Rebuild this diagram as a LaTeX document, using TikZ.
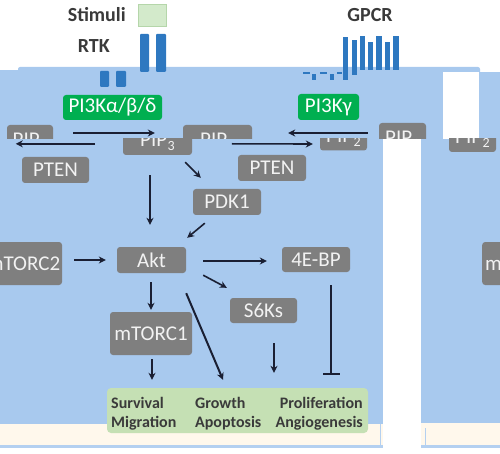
\documentclass[tikz,border=0pt]{standalone}
\usepackage{fontspec}
\setmainfont{Carlito}
\usetikzlibrary{arrows.meta,calc}
\definecolor{bgblue}{HTML}{A8C9EE}
\definecolor{boxgray}{HTML}{7F7F7F}
\definecolor{boxtext}{HTML}{F2F2F2}
\definecolor{kgreen}{HTML}{00AF50}
\definecolor{barblue}{HTML}{2E78C0}
\definecolor{outgreen}{HTML}{C5E0B4}
\definecolor{stimfill}{HTML}{D3EACB}
\definecolor{stimdraw}{HTML}{B5D6AA}
\definecolor{cream}{HTML}{FFF8EC}
\definecolor{linblue}{HTML}{B4D0F0}
\definecolor{arrowc}{HTML}{1A1F33}
\definecolor{darktext}{HTML}{3A3A3A}
\newcommand\pipsub[1]{\kern0.5pt\raisebox{-4pt}{\fontsize{14}{14}\selectfont #1}}
\begin{document}
\begin{tikzpicture}[x=1pt,y=-1pt,
  gbox/.style={fill=boxgray, rounded corners=3pt, inner sep=0pt, text=boxtext,
    font=\fontsize{21}{24}\selectfont},
  pipbox/.style={gbox, minimum height=30, text height=13.5, text depth=0},
  kbox/.style={fill=kgreen, rounded corners=3pt, inner sep=0pt, text=white,
    font=\fontsize{21}{24}\selectfont},
  arr/.style={draw=arrowc, line width=1.6pt, -{Stealth[length=7pt,width=7pt]}},
  inh/.style={draw=arrowc, line width=1.8pt, -{Bar[width=17pt,line width=2pt]}},
  lbl/.style={font=\fontsize{20}{24}\selectfont\bfseries, text=darktext, inner sep=0pt},
  outtxt/.style={font=\fontsize{16}{18}\selectfont\bfseries, text=darktext, inner sep=0pt}]
\useasboundingbox (0,0) rectangle (500,454);
\clip (0,0) rectangle (500,454);

% ---------- backgrounds ----------
\fill[cream] (0,424) rectangle (383,445);
\fill[cream] (421,423) rectangle (500,445);
\fill[linblue] (0,445) rectangle (383,447.5);
\fill[linblue] (421,445) rectangle (500,447.5);
\fill[linblue] (379.5,423) rectangle (381,447);
\fill[linblue] (424.5,428) rectangle (426,447);
\fill[bgblue] (0,139) rectangle (383,424);
\fill[bgblue] (421,139) rectangle (500,423);
\fill[bgblue] (0,70) rectangle (18,139);
\fill[bgblue, rounded corners=2pt] (18,67) rectangle (480,139);
\fill[bgblue] (470,72) rectangle (500,139);
\fill[white] (443,72) rectangle (479,139);

% ---------- receptors ----------
\node[lbl, anchor=east] (stimtxt) at (126,14.5) {Stimuli};
\node[fill=stimfill, draw=stimdraw, line width=0.8pt, minimum width=28, minimum height=22, inner sep=0pt] (stim) at (152,15.5) {};
\node[lbl, anchor=east] (rtk) at (110,46.5) {RTK};
\node[lbl] (gpcr) at (370,15.5) {GPCR};

\fill[barblue, rounded corners=1pt] (140,34) rectangle (149,72);
\fill[barblue, rounded corners=1pt] (156,34) rectangle (166,72);
\fill[barblue, rounded corners=1pt] (100,71) rectangle (109,87);
\fill[barblue, rounded corners=1pt] (116,71) rectangle (126,87);

\fill[barblue] (343,37) rectangle (348,80);
\fill[barblue] (352,40) rectangle (356.5,75);
\fill[barblue] (360,36) rectangle (365,70);
\fill[barblue] (368,42) rectangle (373,70);
\fill[barblue] (376,36) rectangle (382,70);
\fill[barblue] (385,42) rectangle (390,70);
\fill[barblue] (393,36) rectangle (398.5,70);
\fill[barblue] (303,72) rectangle (310,74);
\fill[barblue] (312,74) rectangle (316,80);
\fill[barblue] (320,72) rectangle (327,74);
\fill[barblue] (330,74) rectangle (334,80);
\fill[barblue] (337,72) rectangle (342,74);

% ---------- PI3K ----------
\node[kbox, minimum width=99, minimum height=25] (pi3kabd) at (112.5,107.5) {PI3Kα/β/δ};
\node[kbox, minimum width=61, minimum height=26] (pi3kg) at (328.5,107) {PI3Kγ};

% ---------- upper strip of PIP boxes ----------
\begin{scope}
\clip (0,0) rectangle (500,139);
\node[pipbox, minimum width=46] (pipul) at (30,140) {PIP\pipsub{2}};
\node[pipbox, minimum width=69] (pipum) at (217.5,140) {PIP\pipsub{3}};
\node[pipbox, minimum width=47] (pipur) at (402.5,138) {PIP\pipsub{2}};
\end{scope}

% ---------- lower strip of PIP boxes ----------
\begin{scope}
\clip (0,139) rectangle (500,454);
\node[pipbox, minimum width=69] (pip3l) at (157.5,140) {PIP\pipsub{3}};
\node[pipbox, minimum width=47] (pip2lm) at (343.5,135.5) {PIP\pipsub{2}};
\node[pipbox, minimum width=47] (pip2lr) at (472.5,137) {PIP\pipsub{2}};
\end{scope}

% ---------- pathway boxes ----------
\node[gbox, minimum width=67, minimum height=26] (pten1) at (55.5,170) {PTEN};
\node[gbox, minimum width=68, minimum height=26] (pten2) at (272,168) {PTEN};
\node[gbox, minimum width=68, minimum height=26] (pdk1) at (227,202) {PDK1};
\node[gbox, minimum width=69, minimum height=26] (akt) at (151.5,260) {Akt};
\node[gbox, minimum width=77, minimum height=43] (mtorc2) at (23.5,263.5) {mTORC2};
\node[gbox, minimum width=82, minimum height=43] (mtorc1) at (151,333.5) {mTORC1};
\node[gbox, minimum width=68, minimum height=25] (ebp) at (316,259.5) {4E-BP};
\node[gbox, minimum width=67, minimum height=25] (s6ks) at (263.5,310.5) {S6Ks};
\node[gbox, minimum width=80, minimum height=43, anchor=west, align=left, text width=74, inner xsep=3pt] (mright) at (482,263.5) {mTORC2};

% ---------- outcomes ----------
\node[fill=outgreen, rounded corners=4pt, minimum width=261, minimum height=45, inner sep=0pt] (outc) at (237.5,410.5) {};
\node[outtxt, anchor=base west] (surv) at (111,408) {Survival};
\node[outtxt, anchor=base west] (migr) at (111,427) {Migration};
\node[outtxt, anchor=base west] (grow) at (195,408) {Growth};
\node[outtxt, anchor=base west] (apop) at (195,427) {Apoptosis};
\node[outtxt, anchor=base east] (prol) at (363,408) {Proliferation};
\node[outtxt, anchor=base east] (angi) at (363,427) {Angiogenesis};

% ---------- connectors ----------
\draw[arr] ($(pipul.east)+(20,-7)$) -- ($(pipum.west)+(-28,-7)$);
\draw[arr] ($(pipur.west)+(-11,-5)$) -- ($(pipum.east)+(36,-7)$);
\draw[arr] ($(pten1.north east)+(6,-13)$) -- ($(pten1.north west)+(-6,-13)$);
\draw[arr] ($(pten2.north west)+(-6,-11)$) -- ($(pip2lm.west)+(-7,8.5)$);
\draw[arr] ($(pip3l.south east)+(-7,7)$) -- ($(pdk1.north west)+(8,-11)$);
\draw[arr] ($(pip3l.south)+(-7.5,20)$) -- ($(akt.north)+(-1.5,-22)$);
\draw[arr] ($(pdk1.south west)+(12,8)$) -- ($(akt.north east)+(1,-9)$);
\draw[arr] ($(mtorc2.east|-akt.west)+(12,0)$) -- ($(akt.west)+(-11,0)$);
\draw[arr] ($(akt.east)+(17,1)$) -- ($(ebp.west)+(-15,1.5)$);
\draw[arr] ($(akt.south east)+(17,2)$) -- ($(s6ks.north west)+(-3,-10)$);
\draw[arr] ($(akt.south)+(-0.5,9)$) -- ($(mtorc1.north)+(0,-2)$);
\draw[arr, line width=2pt] ($(akt.south east)+(0,20)$) -- ($(outc.north)+(-14.5,-8)$);
\draw[arr] ($(mtorc1.south)+(1,4)$) -- ($(mtorc1.south|-outc.north)+(1,-8)$);
\draw[arr] ($(s6ks.south)+(10.5,20)$) -- ($(s6ks.south|-outc.north)+(10.5,-15)$);
\draw[inh] ($(ebp.south)+(15,13)$) -- ($(ebp.south|-outc.north)+(15,-13)$);
\end{tikzpicture}
\end{document}
